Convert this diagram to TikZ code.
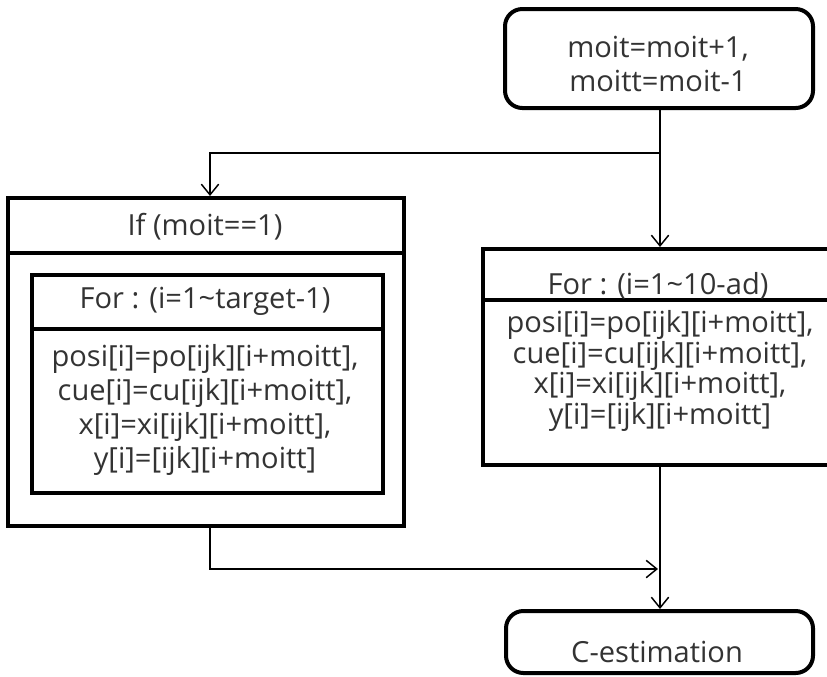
\documentclass[tikz,border=0pt]{standalone}
\usepackage{fontspec}
\setmainfont{Open Sans}
\usetikzlibrary{arrows.meta}
\begin{document}
\begin{tikzpicture}[x=0.75pt,y=-0.75pt,
  box/.style={draw, line width=3pt, inner sep=0pt, fill=white},
  rbox/.style={box, rounded corners=13pt},
  wire/.style={line width=1.1pt},
  flow/.style={wire, -{Straight Barb[length=8pt,width=13pt,line width=1.1pt]}},
  txt/.style={inner sep=0pt, align=center, text=black!80, font=\fontsize{21.8}{25.5}\selectfont},
  tight/.style={txt, font=\fontsize{21.8}{21}\selectfont},
]
\useasboundingbox (0,0) rectangle (827,676);
\clip (0,0) rectangle (827,676);

% boxes
\node[rbox, minimum width=231pt, minimum height=74.25pt] (top) at (659,58.5) {};
\node[box, minimum width=297pt, minimum height=204.75pt] (ifbody) at (206,389.5) {};
\node[box, minimum width=297pt, minimum height=41.25pt] (ifhead) at (206,225.5) {};
\node[box, minimum width=263.25pt, minimum height=123pt] (lbody) at (207.5,411) {};
\node[box, minimum width=263.25pt, minimum height=40.5pt] (lhead) at (207.5,302) {};
\node[box, minimum width=265.5pt, minimum height=123.75pt] (rbody) at (660,382.5) {};
\node[box, minimum width=265.5pt, minimum height=38.25pt] (rhead) at (660,274.5) {};
\node[rbox, minimum width=230.25pt, minimum height=46.5pt] (cest) at (659.5,642) {};

% texts
\node[txt] (toptxt) at (658,63.5) {moit=moit+1,\\moitt=moit-1};
\node[txt] (iftxt) at (205,227) {If (moit==1)};
\node[txt] (lheadtxt) at (205,301) {For : (i=1\textasciitilde target-1)};
\node[txt] (lbodytxt) at (205,410) {posi[i]=po[ijk][i+moitt],\\cue[i]=cu[ijk][i+moitt],\\x[i]=xi[ijk][i+moitt],\\y[i]=[ijk][i+moitt]};
\node[txt] (rheadtxt) at (658,286) {For : (i=1\textasciitilde 10-ad)};
\node[tight] (rbodytxt) at (660,371) {posi[i]=po[ijk][i+moitt],\\cue[i]=cu[ijk][i+moitt],\\x[i]=xi[ijk][i+moitt],\\y[i]=[ijk][i+moitt]};
\node[txt] (cesttxt) at (657,652) {C-estimation};

% connectors
\coordinate (split) at (660,153);
\coordinate (ifin) at (210,153);
\coordinate (ifout) at (210,526);
\coordinate (join) at (658,569);
\draw[wire] (top.south -| split) -- (split);
\draw[flow] (split) -- (split |- rhead.north);
\draw[flow] (split) -- (ifin) -- (ifin |- ifhead.north);
\draw[flow] (rbody.south -| split) -- (split |- cest.north);
\draw[flow] (ifout) |- (join);
\end{tikzpicture}
\end{document}
